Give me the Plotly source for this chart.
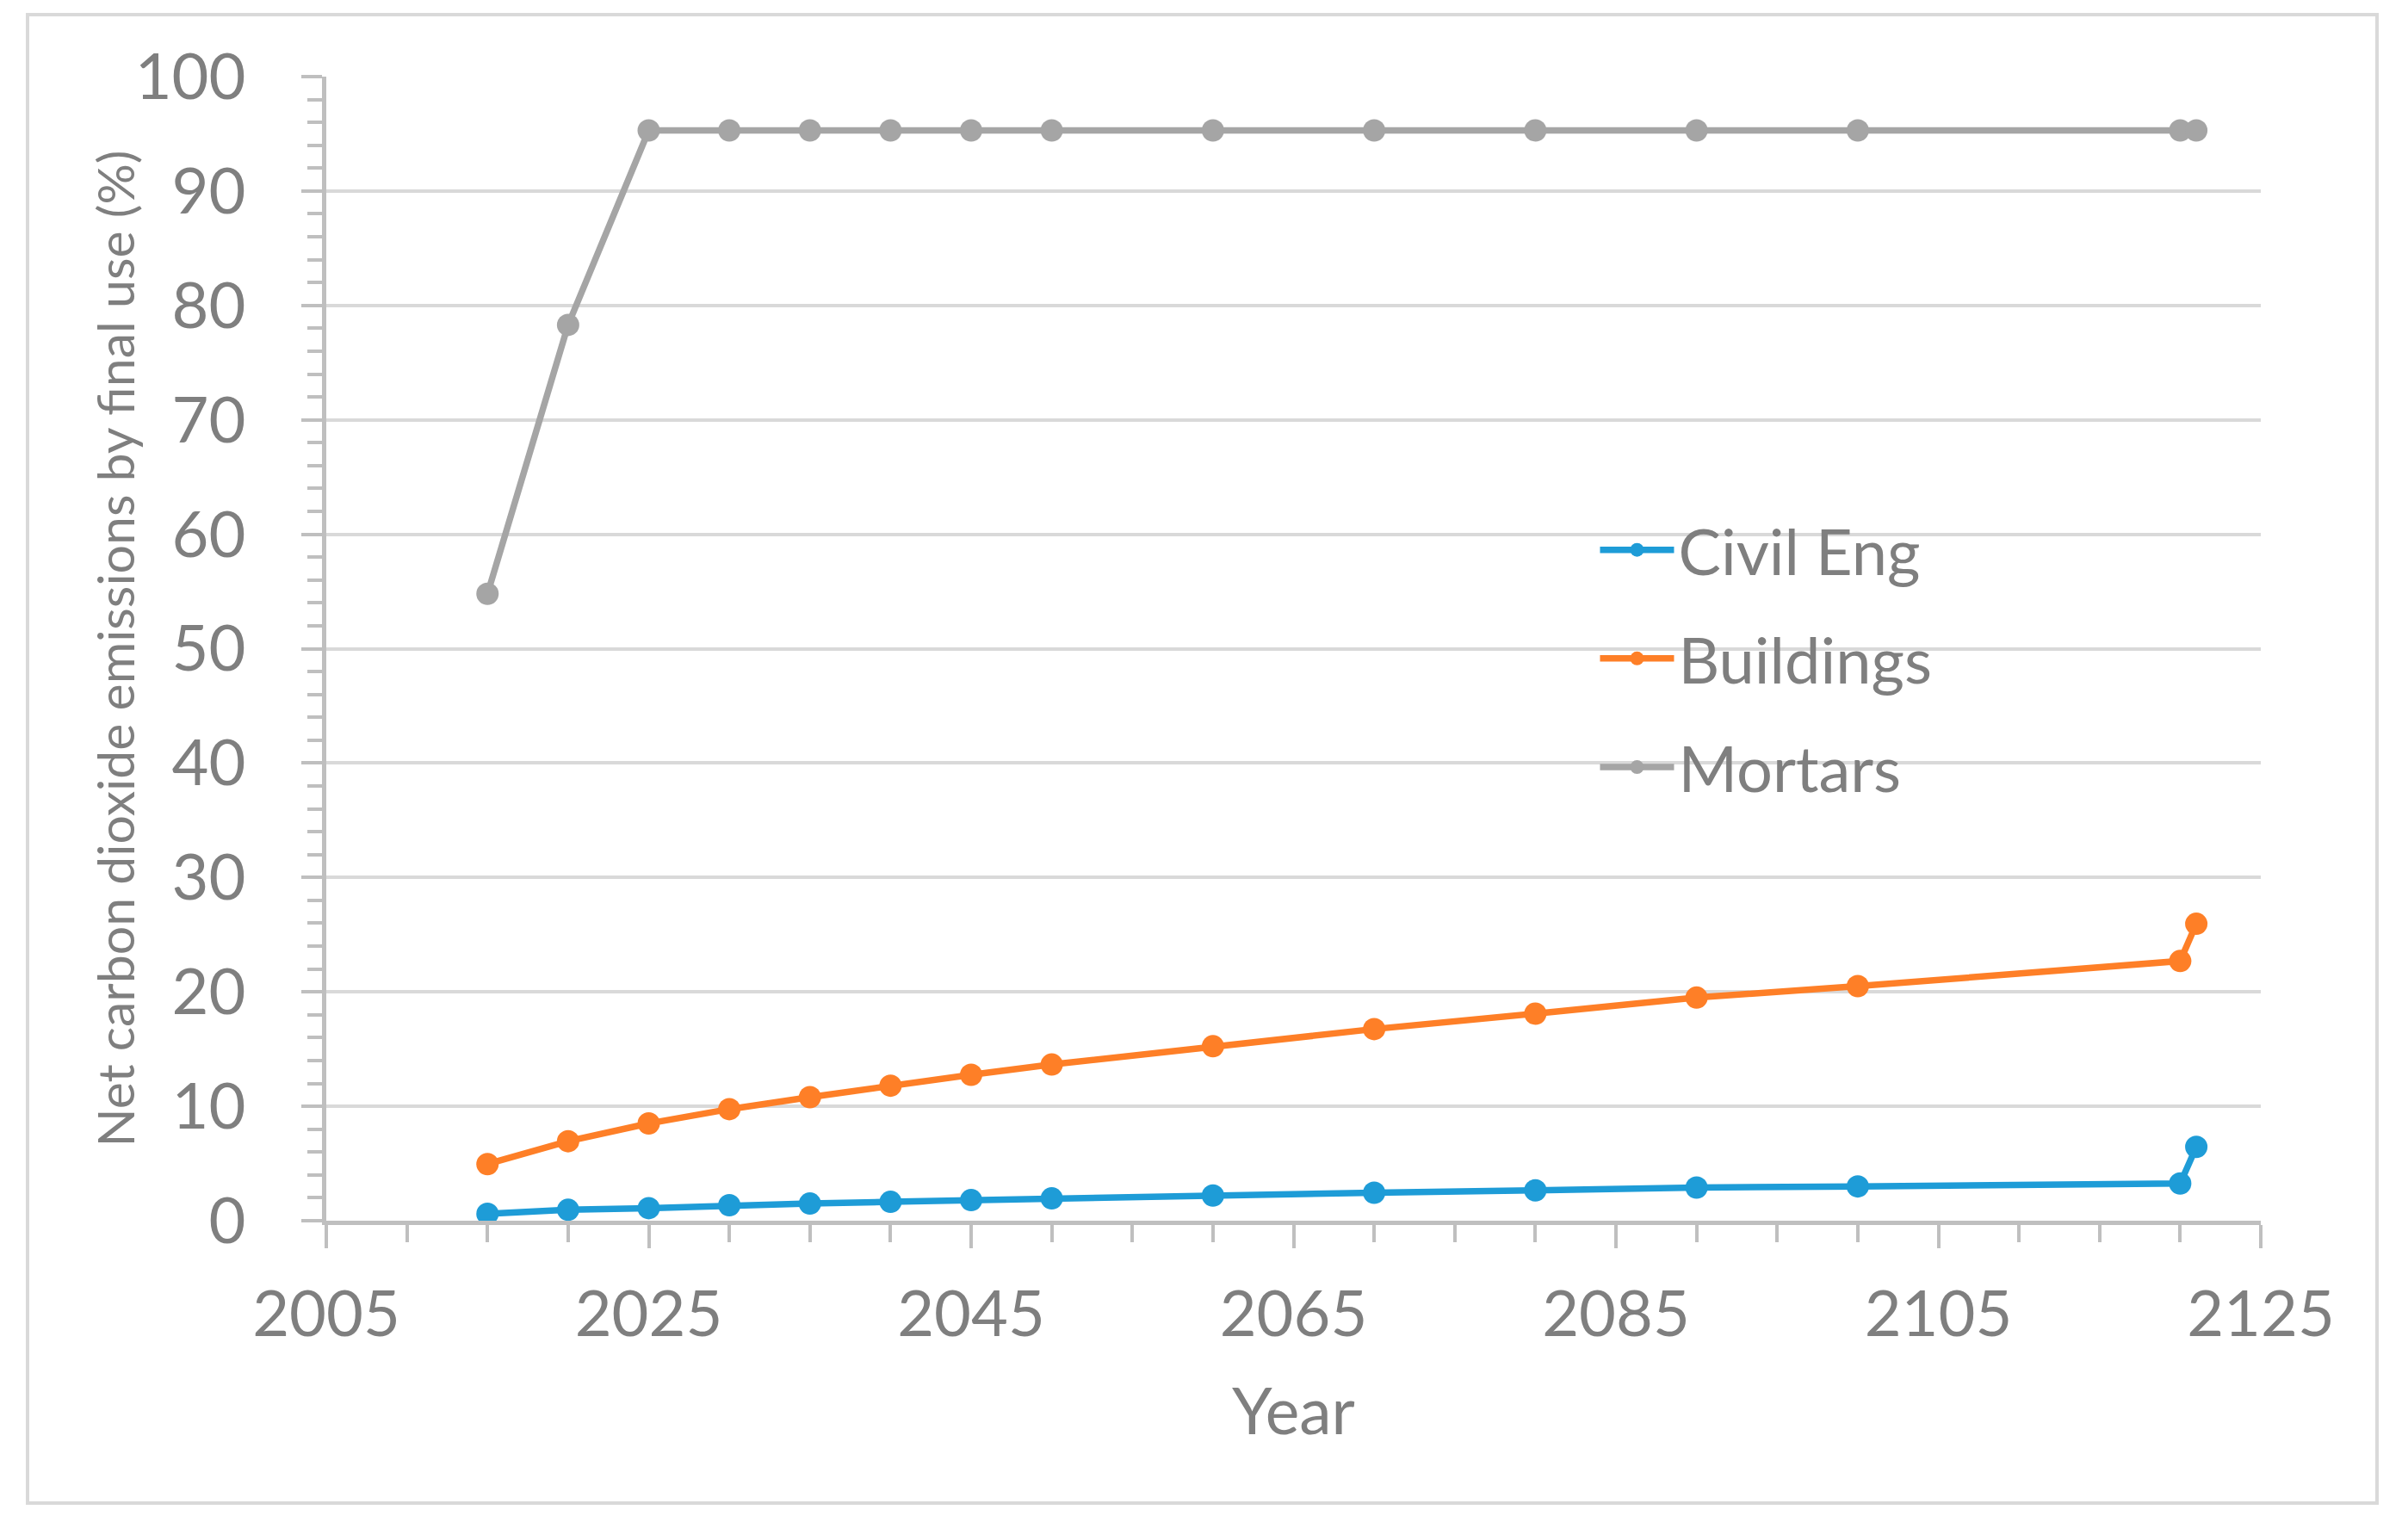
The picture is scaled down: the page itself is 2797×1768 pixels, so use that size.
import plotly.graph_objects as go

# ---- data ----
years = [2015, 2020, 2025, 2030, 2035, 2040, 2045, 2050, 2060, 2070, 2080, 2090, 2100, 2120, 2121]
civil_eng = [0.6, 0.95, 1.1, 1.35, 1.5, 1.65, 1.8, 1.95, 2.2, 2.45, 2.65, 2.9, 3.0, 3.25, 6.45]
buildings = [4.95, 6.95, 8.5, 9.75, 10.8, 11.8, 12.75, 13.65, 15.25, 16.75, 18.1, 19.5, 20.5, 22.7, 25.95]
mortars = [54.8, 78.3, 95.3, 95.3, 95.3, 95.3, 95.3, 95.3, 95.3, 95.3, 95.3, 95.3, 95.3, 95.3, 95.3]

series_names = ["Civil Eng", "Buildings", "Mortars"]
series_values = [civil_eng, buildings, mortars]
series_colors = ["#1e9cd7", "#fe7f27", "#a5a5a5"]

x_title = "Year"
y_title = "Net carbon dioxide emissions by final use (%)"

TEXT = "#7f7f7f"
GRID = "#d9d9d9"
AXIS = "#bfbfbf"
FONT = "Lato"

fig = go.Figure()
for name, vals, col in zip(series_names, series_values, series_colors):
    fig.add_trace(go.Scatter(
        x=years, y=vals, name=name, mode="lines+markers",
        line=dict(color=col, width=7.5),
        marker=dict(color=col, size=26, symbol="circle"),
        cliponaxis=False,
        legendgroup=name,
    ))

# page body has an 8px margin: figure is drawn 8px in from the window edge
OFF = 8
W, H = 2797 - 2 * OFF, 1768 - 2 * OFF
L, T = 379 - OFF, 89 - OFF
R = W - (2626 - OFF)
B = H - (1418 - OFF)
pw, ph = W - L - R, H - T - B

fig.update_layout(
    width=W, height=H,
    margin=dict(l=L, r=R, t=T, b=B, pad=0),
    paper_bgcolor="white", plot_bgcolor="white",
    font=dict(family=FONT, color=TEXT, size=74),
    showlegend=True,
    legend=dict(
        x=0.6562, y=0.6275, xanchor="left", yanchor="top",
        font=dict(family=FONT, size=74, color=TEXT),
        bgcolor="rgba(0,0,0,0)",
        traceorder="grouped", tracegroupgap=27,
        itemsizing="trace", itemwidth=86,
    ),
    xaxis=dict(
        range=[2005, 2125], tick0=2005, dtick=20,
        showgrid=False, zeroline=False,
        showline=True, linecolor=AXIS, linewidth=4.5,
        ticks="outside", ticklen=27, tickwidth=4, tickcolor=AXIS,
        minor=dict(dtick=5, ticks="outside", ticklen=20, tickwidth=4, tickcolor=AXIS, showgrid=False),
        tickfont=dict(family=FONT, size=74, color=TEXT),
        ticklabelstandoff=13,
        title=dict(text=x_title, font=dict(family=FONT, size=75, color=TEXT), standoff=48),
    ),
    yaxis=dict(
        range=[0, 100], tick0=0, dtick=10,
        showgrid=True, gridcolor=GRID, gridwidth=4,
        zeroline=False,
        showline=True, linecolor=AXIS, linewidth=4.5,
        ticks="outside", ticklen=24, tickwidth=4, tickcolor=AXIS,
        minor=dict(dtick=2, ticks="outside", ticklen=17, tickwidth=4, tickcolor=AXIS, showgrid=False),
        tickfont=dict(family=FONT, size=74, color=TEXT),
        ticklabelstandoff=50,
    ),
)

# y-axis title placed as rotated text at the reference position
fig.add_annotation(
    text=y_title, textangle=-90, showarrow=False,
    xref="paper", yref="paper",
    x=(133 - OFF - L) / pw, y=0.5,
    xanchor="center", yanchor="middle",
    font=dict(family=FONT, size=59, color=TEXT),
)

# outer chart border (screen px converted to paper coords)
bx0, bx1, by0, by1 = 32 - OFF, 2761 - OFF, 17 - OFF, 1746 - OFF
fig.add_shape(
    type="rect", xref="paper", yref="paper",
    x0=(bx0 - L) / pw, x1=(bx1 - L) / pw,
    y0=(H - B - by1) / ph, y1=(H - B - by0) / ph,
    line=dict(color=GRID, width=4), fillcolor="rgba(0,0,0,0)", layer="below",
)

fig.write_html("out.html")
